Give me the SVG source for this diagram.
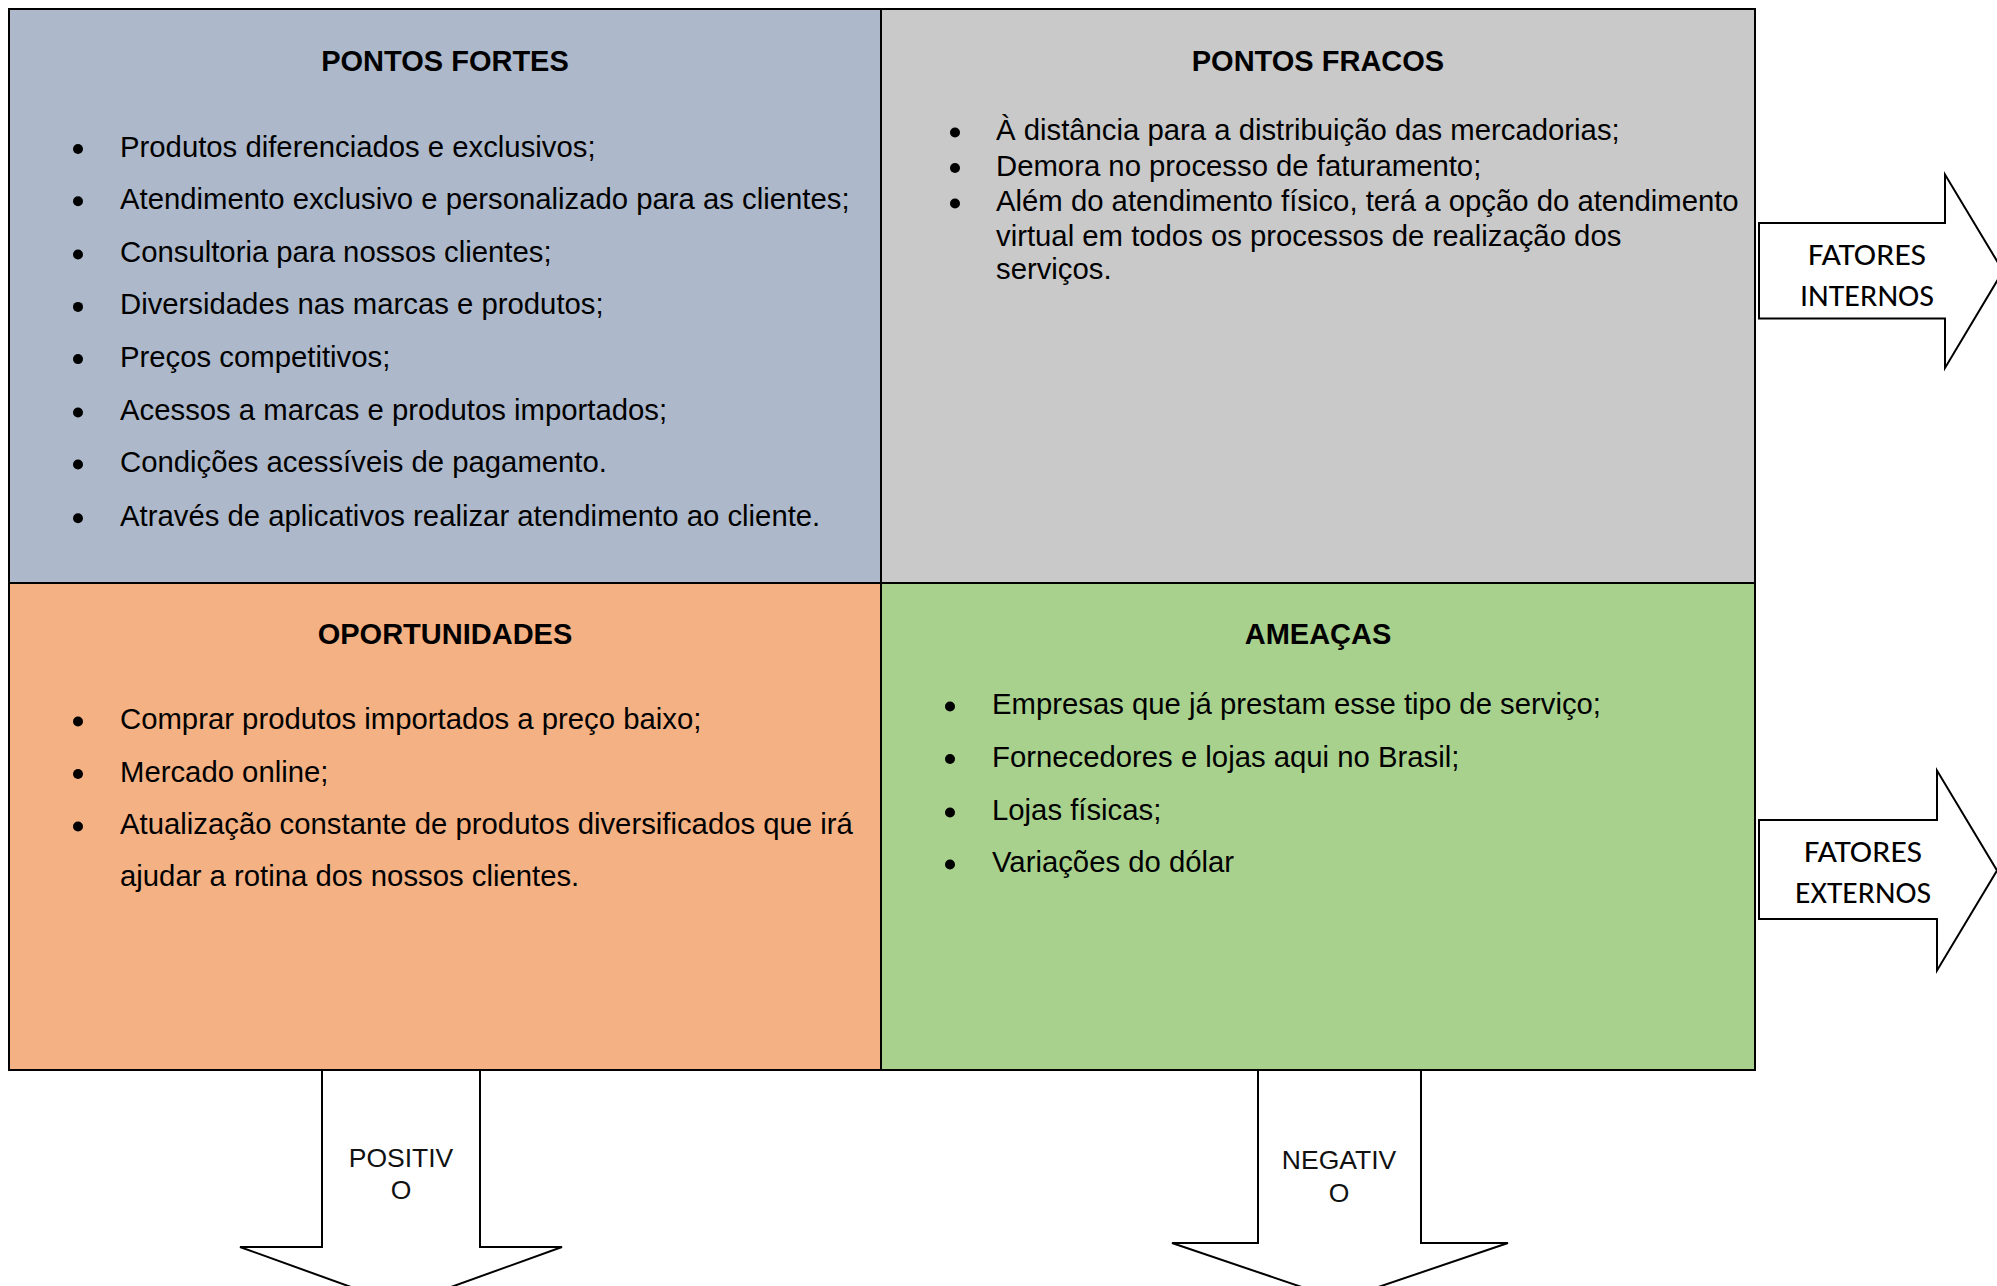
<svg xmlns="http://www.w3.org/2000/svg" width="1997" height="1286" viewBox="0 0 1997 1286">
  <style>
    .panel { stroke: #000; stroke-width: 2; }
    .title { font-family: "Liberation Sans", Arial, sans-serif; font-size: 29px; font-weight: bold; fill: #000; text-anchor: middle; }
    .item { font-family: "Liberation Sans", Arial, sans-serif; font-size: 29.3px; fill: #000; }
    .bullet { fill: #000; }
    .arrow { fill: #fff; stroke: #000; stroke-width: 2; stroke-linejoin: miter; }
    .lbl { font-family: Carlito, Lato, "Open Sans", sans-serif; font-size: 30px; fill: #000; text-anchor: middle; }
    .lbl2 { font-family: "Liberation Sans", Arial, sans-serif; font-size: 26.5px; fill: #111; text-anchor: middle; }
  </style>
  <rect width="1997" height="1286" fill="#fff"/>

  <g id="panel-fortes">
    <rect class="panel" x="9" y="9" width="872" height="574" fill="#ADB9CA"/>
    <text class="title" x="445" y="70.5">PONTOS FORTES</text>
    <g>
      <circle class="bullet" cx="78" cy="149" r="5"/>
      <circle class="bullet" cx="78" cy="201.2" r="5"/>
      <circle class="bullet" cx="78" cy="254.5" r="5"/>
      <circle class="bullet" cx="78" cy="306.9" r="5"/>
      <circle class="bullet" cx="78" cy="359.1" r="5"/>
      <circle class="bullet" cx="78" cy="412.5" r="5"/>
      <circle class="bullet" cx="78" cy="464.5" r="5"/>
      <circle class="bullet" cx="78" cy="518.3" r="5"/>
    </g>
    <text class="item" x="120" y="156.5">Produtos diferenciados e exclusivos;</text>
    <text class="item" x="120" y="208.7">Atendimento exclusivo e personalizado para as clientes;</text>
    <text class="item" x="120" y="262">Consultoria para nossos clientes;</text>
    <text class="item" x="120" y="314.4">Diversidades nas marcas e produtos;</text>
    <text class="item" x="120" y="366.6">Preços competitivos;</text>
    <text class="item" x="120" y="420">Acessos a marcas e produtos importados;</text>
    <text class="item" x="120" y="472">Condições acessíveis de pagamento.</text>
    <text class="item" x="120" y="525.8">Através de aplicativos realizar atendimento ao cliente.</text>
  </g>

  <g id="panel-fracos">
    <rect class="panel" x="881" y="9" width="874" height="574" fill="#C9C9C9"/>
    <text class="title" x="1318" y="70.5">PONTOS FRACOS</text>
    <circle class="bullet" cx="955" cy="132.5" r="5"/>
    <circle class="bullet" cx="955" cy="168" r="5"/>
    <circle class="bullet" cx="955" cy="203.5" r="5"/>
    <text class="item" x="996" y="140">À distância para a distribuição das mercadorias;</text>
    <text class="item" x="996" y="175.5">Demora no processo de faturamento;</text>
    <text class="item" x="996" y="211">Além do atendimento físico, terá a opção do atendimento</text>
    <text class="item" x="996" y="245.5">virtual em todos os processos de realização dos</text>
    <text class="item" x="996" y="279">serviços.</text>
  </g>

  <g id="panel-oportunidades">
    <rect class="panel" x="9" y="583" width="872" height="487" fill="#F4B183"/>
    <text class="title" x="445" y="643.5">OPORTUNIDADES</text>
    <circle class="bullet" cx="78" cy="721.5" r="5"/>
    <circle class="bullet" cx="78" cy="774" r="5"/>
    <circle class="bullet" cx="78" cy="826.5" r="5"/>
    <text class="item" x="120" y="729">Comprar produtos importados a preço baixo;</text>
    <text class="item" x="120" y="781.5">Mercado online;</text>
    <text class="item" x="120" y="834">Atualização constante de produtos diversificados que irá</text>
    <text class="item" x="120" y="886">ajudar a rotina dos nossos clientes.</text>
  </g>

  <g id="panel-ameacas">
    <rect class="panel" x="881" y="583" width="874" height="487" fill="#A9D18E"/>
    <text class="title" x="1318" y="643.5">AMEAÇAS</text>
    <circle class="bullet" cx="950" cy="706.5" r="5"/>
    <circle class="bullet" cx="950" cy="759" r="5"/>
    <circle class="bullet" cx="950" cy="812.5" r="5"/>
    <circle class="bullet" cx="950" cy="864.5" r="5"/>
    <text class="item" x="992" y="714">Empresas que já prestam esse tipo de serviço;</text>
    <text class="item" x="992" y="766.5">Fornecedores e lojas aqui no Brasil;</text>
    <text class="item" x="992" y="820">Lojas físicas;</text>
    <text class="item" x="992" y="872">Variações do dólar</text>
  </g>

  <g id="connectors">
    <g id="arrow-internos">
      <polygon class="arrow" points="1759,223 1945,223 1945,174.5 2003,271 1945,368 1945,318.5 1759,318.5"/>
      <text class="lbl" x="1867" y="265" textLength="118" lengthAdjust="spacingAndGlyphs">FATORES</text>
      <text class="lbl" x="1867" y="305.5" textLength="134" lengthAdjust="spacingAndGlyphs">INTERNOS</text>
    </g>
    <g id="arrow-externos">
      <polygon class="arrow" points="1759,820 1937,820 1937,770.5 1997,870.5 1937,970.5 1937,919 1759,919"/>
      <text class="lbl" x="1863" y="862" textLength="118" lengthAdjust="spacingAndGlyphs">FATORES</text>
      <text class="lbl" x="1863" y="903" textLength="136" lengthAdjust="spacingAndGlyphs">EXTERNOS</text>
    </g>
    <g id="arrow-positivo">
      <polygon class="arrow" points="322,1070 480,1070 480,1247 562,1247 401,1305 240,1247 322,1247"/>
      <text class="lbl2" x="401" y="1167">POSITIV</text>
      <text class="lbl2" x="401" y="1199">O</text>
    </g>
    <g id="arrow-negativo">
      <polygon class="arrow" points="1258,1070 1421,1070 1421,1243 1508,1243 1340,1300 1172,1243 1258,1243"/>
      <text class="lbl2" x="1339" y="1168.5">NEGATIV</text>
      <text class="lbl2" x="1339" y="1201.5">O</text>
    </g>
  </g>
</svg>
